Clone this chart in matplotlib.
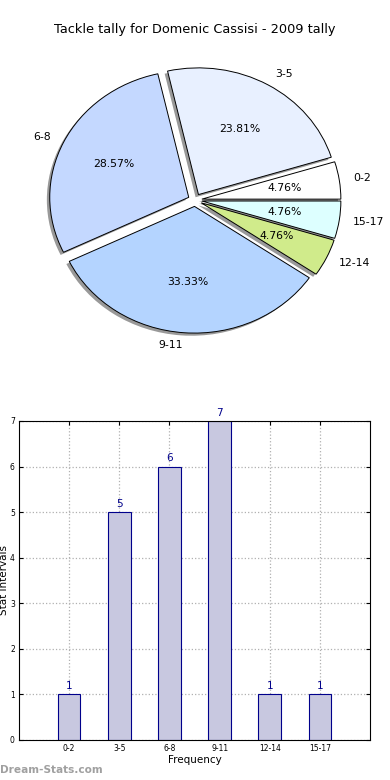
import matplotlib
matplotlib.use("Agg")
import matplotlib.pyplot as plt

# tally data
intervals = ["0-2", "3-5", "6-8", "9-11", "12-14", "15-17"]
counts = [1, 5, 6, 7, 1, 1]
slice_colors = ["#ffffff", "#e8f0ff", "#c4d8ff", "#b4d4ff", "#d0eb8b", "#ddffff"]

title = "Tackle tally for Domenic Cassisi - 2009 tally"

fig = plt.figure(figsize=(3.9, 7.8), dpi=100)

# --- pie on top (slightly squashed like the old non-equal-aspect pie)
ax1 = fig.add_axes([0.0, 0.564, 1.0, 0.359])
ax1.pie(counts, labels=intervals, colors=slice_colors, explode=[0.05] * len(counts),
        autopct="%1.2f%%", startangle=0, counterclock=True,
        shadow=dict(ox=-0.015, oy=-0.015, facecolor="#808080", edgecolor="none", alpha=0.8),
        wedgeprops=dict(edgecolor="black", linewidth=0.7),
        textprops=dict(fontsize=7.8), labeldistance=1.1, pctdistance=0.6)
ax1.set_aspect("auto")
ax1.set_xlim(-1.403, 1.403)
ax1.set_ylim(-1.105, 1.105)
ax1.axis("off")
fig.text(0.5, 1 - 30 / 780, title, ha="center", va="center", fontsize=9.3)

# --- bar chart below
ax2 = fig.add_axes([0.0487, 0.0513, 0.9, 0.409])
x = list(range(len(intervals)))
ax2.bar(x, counts, width=0.45, color="#c8c8e0", edgecolor="#00008b", linewidth=0.8, zorder=2)
for xi, c in zip(x, counts):
    ax2.text(xi, c + 0.07, str(c), ha="center", va="bottom", color="#00008b", fontsize=7.5)
ax2.set_xlim(-1, 6)
ax2.set_ylim(0, 7)
ax2.set_xticks(x)
ax2.set_xticklabels(intervals)
ax2.set_yticks(range(8))
ax2.tick_params(labelsize=5.5, direction="in", top=True, right=True, length=3, pad=3)
ax2.grid(True, linestyle=":", color="#b0b0b0", linewidth=0.9, zorder=0)
ax2.set_axisbelow(True)
ax2.set_xlabel("Frequency", fontsize=7.5, labelpad=1)
ax2.set_ylabel("Stat Intervals", fontsize=7.5, labelpad=0.5)

fig.text(0.0, 1 - 770 / 780, "Dream-Stats.com", ha="left", va="center",
         fontsize=7.6, color="#a0a0a0", fontweight="bold")

fig.savefig("out.png", dpi=100)
